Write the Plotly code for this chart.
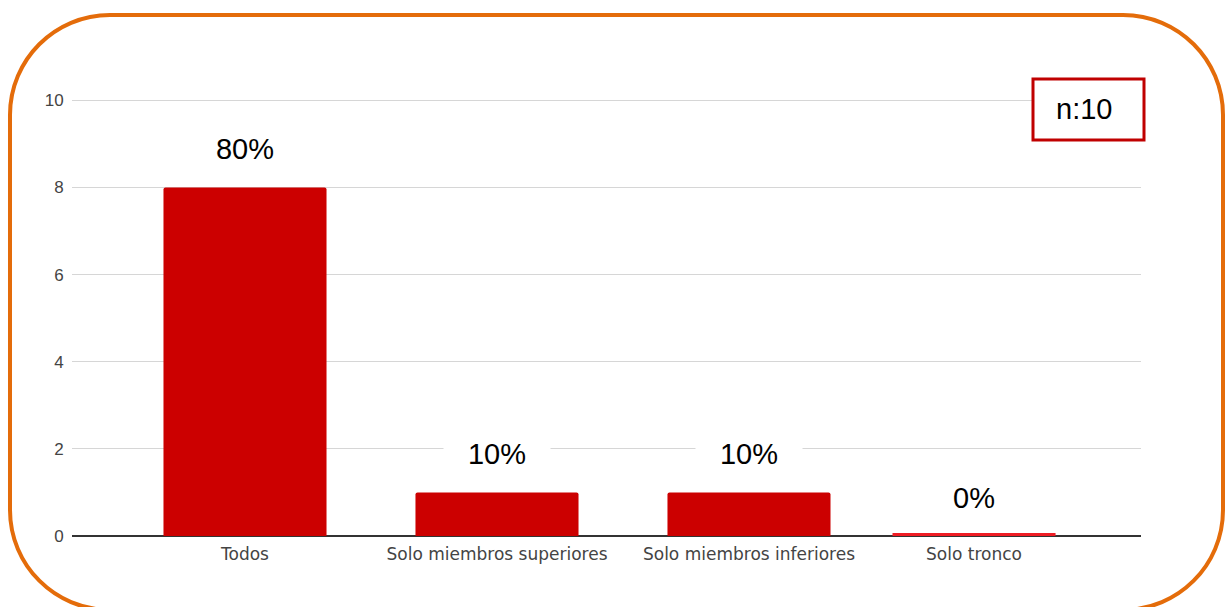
import plotly.graph_objects as go

# Data
categories = ["Todos", "Solo miembros superiores", "Solo miembros inferiores", "Solo tronco"]
counts = [8, 1, 1, 0]
n_total = 10
y_ticks = [0, 2, 4, 6, 8, 10]

# horizontal slot of each category on the value axis
slots = [0, 1, 2, 2.893]

W, H = 1226, 607
ML, MR, MT, MB = 72, 85, 96, 71
PW, PH = W - ML - MR, H - MT - MB

BAR = "#cc0000"
ZERO_BAR = "#ee1c24"
FONT = "Liberation Sans, Arial, sans-serif"
XFONT = "DejaVu Sans, Liberation Sans, sans-serif"
BAR_W = 0.647


def px_x(px):
    return (px - ML) / PW


def px_y(py):
    return (H - MB - py) / PH


fig = go.Figure()
fig.add_trace(go.Bar(
    x=slots,
    y=counts,
    width=BAR_W,
    marker=dict(color=BAR, cornerradius=2, line=dict(width=0)),
    hoverinfo="skip",
))

# thin strip for empty categories
for s, v in zip(slots, counts):
    if v == 0:
        fig.add_shape(type="rect", xref="x", yref="y",
                      x0=s - BAR_W / 2, x1=s + BAR_W / 2,
                      ysizemode="pixel", yanchor=v, y0=0, y1=3,
                      line=dict(width=0), fillcolor=ZERO_BAR, layer="above")

# percentage labels above each bar
for s, v in zip(slots, counts):
    fig.add_annotation(
        x=s, y=v + 0.88, xref="x", yref="y",
        text=f"{round(v / n_total * 100)}%",
        showarrow=False, bgcolor="white", width=104,
        font=dict(family=FONT, size=29, color="#000000"),
        xanchor="center", yanchor="middle",
    )

# sample size box
fig.add_shape(type="rect", xref="paper", yref="paper",
              x0=px_x(1033), x1=px_x(1144), y0=px_y(79), y1=px_y(140),
              line=dict(color="#c00000", width=3), fillcolor="white")
fig.add_annotation(xref="paper", yref="paper", x=px_x(1084), y=px_y(109),
                   text=f"n:{n_total}", showarrow=False,
                   xanchor="center", yanchor="middle",
                   font=dict(family=FONT, size=29, color="#000000"))

# rounded orange frame
L, T, R, B, r = 10, 15, 1223, 610, 100
k = 0.5523 * r


def P(x, y):
    return f"{px_x(x):.5f},{px_y(y):.5f}"


path = (
    f"M {P(L + r, T)} L {P(R - r, T)} "
    f"C {P(R - r + k, T)} {P(R, T + r - k)} {P(R, T + r)} "
    f"L {P(R, B - r)} "
    f"C {P(R, B - r + k)} {P(R - r + k, B)} {P(R - r, B)} "
    f"L {P(L + r, B)} "
    f"C {P(L + r - k, B)} {P(L, B - r + k)} {P(L, B - r)} "
    f"L {P(L, T + r)} "
    f"C {P(L, T + r - k)} {P(L + r - k, T)} {P(L + r, T)} Z"
)
fig.add_shape(type="path", xref="paper", yref="paper", path=path,
              line=dict(color="#e46c0a", width=4), fillcolor="rgba(0,0,0,0)")

fig.update_layout(
    width=W, height=H,
    margin=dict(l=ML, r=MR, t=MT, b=MB, pad=0),
    paper_bgcolor="white", plot_bgcolor="white",
    showlegend=False,
    font=dict(family=FONT, color="#444444"),
)
fig.update_xaxes(
    range=[-0.6865, 3.5556],
    tickvals=slots, ticktext=categories,
    showgrid=False, showline=False, zeroline=False,
    ticks="outside", ticklen=3, tickcolor="rgba(0,0,0,0)",
    tickfont=dict(family=XFONT, size=17, color="#444444"),
)
fig.update_yaxes(
    range=[0, 10.1],
    tickvals=y_ticks,
    showgrid=True, gridcolor="#d6d6d6", gridwidth=1,
    zeroline=True, zerolinecolor="#333333", zerolinewidth=1.5,
    showline=False,
    ticks="outside", ticklen=4, tickcolor="rgba(0,0,0,0)",
    tickfont=dict(family=FONT, size=17, color="#444444"),
)

fig.write_html("out.html", config={"displayModeBar": False})
